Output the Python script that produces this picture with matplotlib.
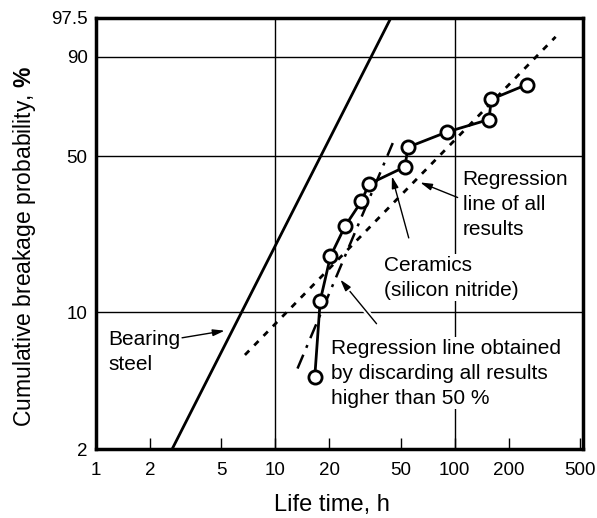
import numpy as np
import matplotlib
matplotlib.use("Agg")
import matplotlib.pyplot as plt
import matplotlib.patheffects as pe

plt.rcParams['font.family'] = ['Liberation Sans', 'DejaVu Sans']
plt.rcParams['mathtext.fontset'] = 'custom'
plt.rcParams['mathtext.rm'] = 'Liberation Sans'
plt.rcParams['mathtext.bf'] = 'Liberation Sans:bold'

# ceramics (silicon nitride) test results
life_h = [16.6, 17.8, 20.3, 24.5, 30.2, 33.3, 52.8, 55.0, 90.2, 155.5, 160.3, 253.0]
prob_pct = [4.7, 11.4, 18.7, 25.8, 33.1, 39.1, 45.7, 53.9, 60.5, 66.1, 74.9, 80.8]

# bearing steel line (end points)
steel_h = [2.66, 44.1]
steel_pct = [2.0, 97.5]

# regression line of all results
reg_all_h = [6.77, 366.0]
reg_all_pct = [6.1, 94.7]

# regression line, results above 50 % discarded
reg_50_h = [13.3, 45.2]
reg_50_pct = [5.2, 55.7]

xticks = [1, 2, 5, 10, 20, 50, 100, 200, 500]
yticks = [2, 10, 50, 90, 97.5]


def weib(p):
    p = np.clip(np.asarray(p, dtype=float), 1e-6, 100 - 1e-6) / 100.0
    return np.log(-np.log(1 - p))


def weib_inv(w):
    w = np.asarray(w, dtype=float)
    return 100.0 * (1 - np.exp(-np.exp(w)))


fig = plt.figure(figsize=(5.97, 5.18), dpi=100)
ax = fig.add_axes([0.1608, 0.1332, 0.8157, 0.8321])
ax.set_xscale('log')
ax.set_yscale('function', functions=(weib, weib_inv))
ax.set_xlim(1, 520)
ax.set_ylim(2, 97.5)

# grid lines
for v in [10, 100]:
    ax.axvline(v, color='black', lw=1.0, zorder=1)
for h in [10, 50, 90]:
    ax.axhline(h, color='black', lw=1.0, zorder=1)

ax.plot(steel_h, steel_pct, color='black', lw=2.0, zorder=3)
ax.plot(reg_all_h, reg_all_pct, color='black', lw=2.0, dashes=(2.2, 2.6), zorder=3)
ax.plot(reg_50_h, reg_50_pct, color='black', lw=1.8, dashes=(6, 3, 1.2, 3), zorder=3)
ax.plot(life_h, prob_pct, color='black', lw=2.0, marker='o', ms=9.5,
        mfc='white', mec='black', mew=2.0, zorder=4)

box = dict(facecolor='white', edgecolor='none', pad=1.0)
arr = dict(arrowstyle='-|>,head_length=0.7,head_width=0.2', lw=1.0,
           color='black', shrinkA=0, shrinkB=0)
fs = 15
kw = dict(fontsize=fs, va='center', ha='left', linespacing=1.4, zorder=5)

ax.text(1.17, 6.35, 'Bearing\nsteel', **kw)
ax.annotate('', xy=(5.22, 8.09), xytext=(3.02, 7.45), arrowprops=arr, zorder=5)

ax.text(111, 32.0, 'Regression\nline of all\nresults', bbox=box, **kw)
ax.annotate('', xy=(64.3, 39.7), xytext=(104, 34.4), arrowprops=arr, zorder=5)

ax.text(40.2, 14.8, 'Ceramics\n(silicon nitride)', bbox=box, **kw)
ax.annotate('', xy=(44.7, 42.0), xytext=(55.5, 22.8), arrowprops=arr, zorder=5)

ax.text(20.5, 4.92, 'Regression line obtained\nby discarding all results\nhigher than 50 %',
        bbox=box, **kw)
a = ax.annotate('', xy=(23.0, 14.5), xytext=(36.7, 8.77), arrowprops=arr, zorder=5)
a.arrow_patch.set_path_effects([pe.Stroke(linewidth=4, foreground='white'), pe.Normal()])

ax.set_xticks(xticks)
ax.set_xticklabels([str(t) for t in xticks], fontsize=13.5)
ax.xaxis.set_minor_locator(matplotlib.ticker.NullLocator())
ax.set_yticks(yticks)
ax.set_yticklabels(['2', '10', '50', '90', '97.5'], fontsize=13.5)
ax.yaxis.set_minor_locator(matplotlib.ticker.NullLocator())
ax.tick_params(axis='x', direction='in', length=8, width=1.0, pad=9)
ax.tick_params(axis='y', length=0, pad=6)

for s in ax.spines.values():
    s.set_linewidth(2.5)

ax.set_xlabel('Life time, h', fontsize=17)
ax.xaxis.set_label_coords(0.485, -0.105)
ax.set_ylabel('Cumulative breakage probability, $\\mathbf{\\%}$', fontsize=16.5)
ax.yaxis.set_label_coords(-0.12, 0.47)

fig.savefig('out.png', dpi=100)
